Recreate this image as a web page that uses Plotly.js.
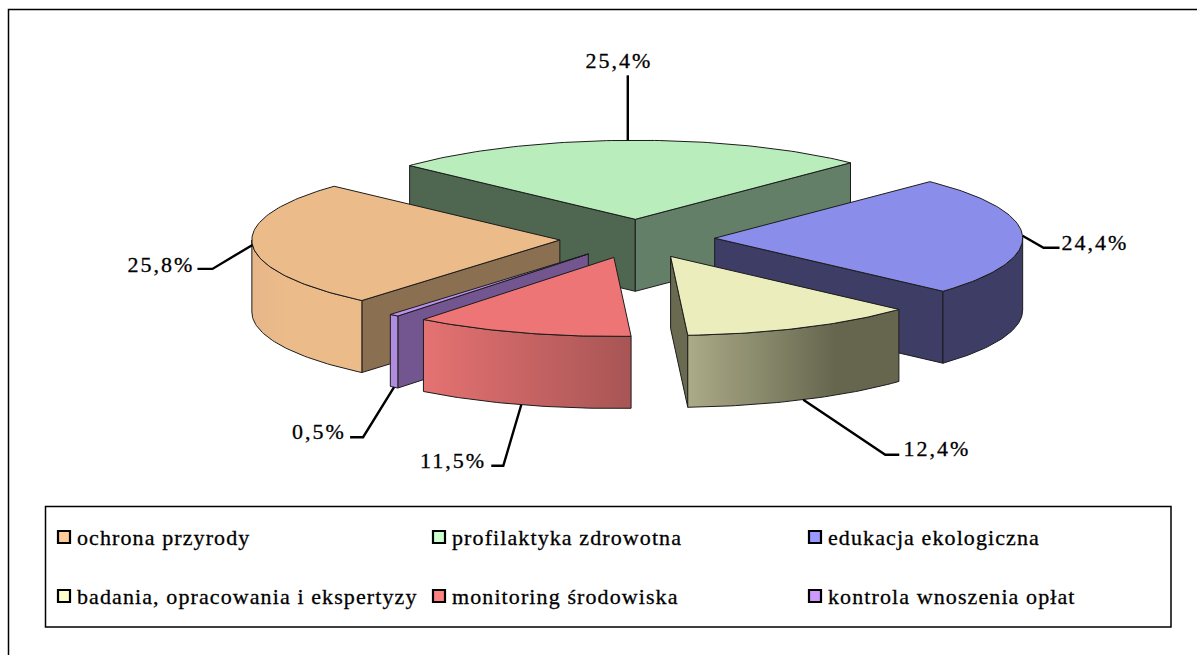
<!DOCTYPE html>
<html><head><meta charset="utf-8">
<script src="https://cdn.plot.ly/plotly-3.0.1.min.js"></script>
<style>html,body{margin:0;padding:0;background:#fff;overflow:hidden}
#chart .scatterlayer .trace text{letter-spacing:2px;stroke:#000;stroke-width:.3px}
#chart .scatterlayer .trace:last-child text{letter-spacing:1.1px}
</style></head><body><div id="chart" style="width:1197px;height:655px"></div>
<script>
// ---- data ----
const categories = ['ochrona przyrody','profilaktyka zdrowotna','edukacja ekologiczna','badania, opracowania i ekspertyzy','monitoring środowiska','kontrola wnoszenia opłat'];
const values = [25.8,25.4,24.4,12.4,11.5,0.5];

// ---- style ----
const topColors = ['#EBBB8A','#BAEDBC','#8B8DEA','#ECEDBD','#EE7575','#BB8FEE'];
const swatchColors = ['#FFCC99','#CCFFCC','#9999FF','#FFFFCC','#FF8080','#CC99FF'];
const startFaceColors = ['#8A7050','#4F6650','#3D3D66','#6A6A50','#A85555','#735690'];
const endFaceColors = ['#8A7050','#647F67','#3D3D66','#6A6A50','#A85555','#735690'];
const rimScales = [
  [[0,'#E6B689'],[0.3,'#EBBB8A'],[1,'#EBBB8A']],
  [[0,'#647F67'],[1,'#647F67']],
  [[0,'#3D3D66'],[1,'#3D3D66']],
  [[0,'#ABAB88'],[0.7,'#66664F'],[1,'#66664F']],
  [[0,'#E57272'],[1,'#A85555']],
  [[0,'#B08CE0'],[1,'#B08CE0']]
];
const drawOrder = [1,2,0,5,4,3];
// pie projection (pixel space axes)
const cx=637.2, cy=238.8, rx=308, ry=79, depth=72, pullX=77.5, pullY=19.5, firstAngle=220;
// leader elbow offsets from rim anchor, and label placement
const elbows = [[-40,24,-55,24],[0,-65,0,-65],[21,12,37,12],[82,55,96,55],[-18,61,-30,61],[-31,50,-44,50]];
const labelPos = [[161,266],[619,62],[1095,244],[937,450],[453,462],[319,433]];
const useBottom = [false,false,false,true,true,true];
// legend layout
const legendX = [64,439,815], legendY = [537,596], legendTextDx = 13, legendTextDy = 2;

// ---- geometry ----
const rad = d=>d*Math.PI/180;
function arc(ax,ay,a,b,dz){const pts=[];const n=Math.max(2,Math.ceil(Math.abs(b-a)));
  for(let i=0;i<=n;i++){const t=rad(a+(b-a)*i/n);pts.push([ax+rx*Math.sin(t),ay-ry*Math.cos(t)+dz]);}return pts;}
const total = values.reduce((s,v)=>s+v,0);
let acc = firstAngle;
const wedges = values.map(v=>{const a=acc,b=acc+v/total*360;acc=b;const m=rad((a+b)/2);
  return {a,b,mid:(a+b)/2,ax:cx+pullX*Math.sin(m),ay:cy-pullY*Math.cos(m)};});

const traces=[];
function poly(pts,extra){traces.push(Object.assign({type:'scatter',mode:'lines',x:pts.map(p=>p[0]).concat(pts[0][0]),y:pts.map(p=>p[1]).concat(pts[0][1]),
  fill:'toself',line:{color:'#1c1c1c',width:1},hoverinfo:'skip',showlegend:false},extra));}
drawOrder.forEach(i=>{const w=wedges[i];
  // a cut face is drawn only if it turns toward the viewer
  [[w.a,startFaceColors[i],Math.sin(rad(w.a))<0],[w.b,endFaceColors[i],Math.sin(rad(w.b))>0]].forEach(([t,c,vis])=>{
    if(!vis) return;
    const p=arc(w.ax,w.ay,t,t,0)[0];
    poly([[w.ax,w.ay],p,[p[0],p[1]+depth],[w.ax,w.ay+depth]],{fillcolor:c});
  });
  // visible part of rim: faces the viewer between 90 and 270 degrees
  const norm=w.a%360, span=w.b-w.a; const s=Math.max(norm,90), e=Math.min(norm+span,270);
  if(e>s){const up=arc(w.ax,w.ay,s,e,0), dn=arc(w.ax,w.ay,s,e,depth).reverse();
    poly(up.concat(dn),{fillgradient:{type:'horizontal',colorscale:rimScales[i]}});}
  poly([[w.ax,w.ay]].concat(arc(w.ax,w.ay,w.a,w.b,0)),{fillcolor:topColors[i]});
});
// leader lines anchored on each slice rim
wedges.forEach((w,i)=>{const t=rad(w.mid);const sx=w.ax+rx*Math.sin(t),sy=w.ay-ry*Math.cos(t)+(useBottom[i]?depth:0);
  const el=elbows[i];
  traces.push({type:'scatter',mode:'lines',x:[sx,sx+el[0],sx+el[2]],y:[sy,sy+el[1],sy+el[3]],line:{color:'#000',width:2.4},hoverinfo:'skip',showlegend:false});
});
// percent labels
traces.push({type:'scatter',mode:'text',x:labelPos.map(p=>p[0]),y:labelPos.map(p=>p[1]),
  text:values.map(v=>v.toFixed(1).replace('.',',')+'%'),textposition:'middle center',
  textfont:{family:'Liberation Serif',size:22,color:'#000'},hoverinfo:'skip',showlegend:false});
// legend swatches and names
const legCol=i=>legendX[i%3], legRow=i=>legendY[Math.floor(i/3)];
traces.push({type:'scatter',mode:'markers',x:categories.map((c,i)=>legCol(i)),y:categories.map((c,i)=>legRow(i)),
  marker:{symbol:'square',size:12,color:swatchColors,line:{color:'#000',width:2.2}},hoverinfo:'skip',showlegend:false});
traces.push({type:'scatter',mode:'text',x:categories.map((c,i)=>legCol(i)+legendTextDx),y:categories.map((c,i)=>legRow(i)+legendTextDy),
  text:categories,textposition:'middle right',
  textfont:{family:'Liberation Serif',size:22,color:'#000'},hoverinfo:'skip',showlegend:false});

const layout={width:1197,height:655,margin:{l:0,r:0,t:0,b:0},paper_bgcolor:'#fff',plot_bgcolor:'#fff',showlegend:false,
  xaxis:{range:[0,1197],visible:false,fixedrange:true},
  yaxis:{range:[655,0],visible:false,fixedrange:true},
  shapes:[
    {type:'rect',xref:'x',yref:'y',x0:45.5,x1:1171,y0:506.5,y1:627,line:{color:'#000',width:1.5},layer:'below'},
    {type:'path',xref:'x',yref:'y',path:'M8.5 655 L8.5 9.5 L1197 9.5',line:{color:'#000',width:1.5},layer:'below'}
  ]};
Plotly.newPlot('chart',traces,layout,{displayModeBar:false,staticPlot:true});
</script></body></html>
